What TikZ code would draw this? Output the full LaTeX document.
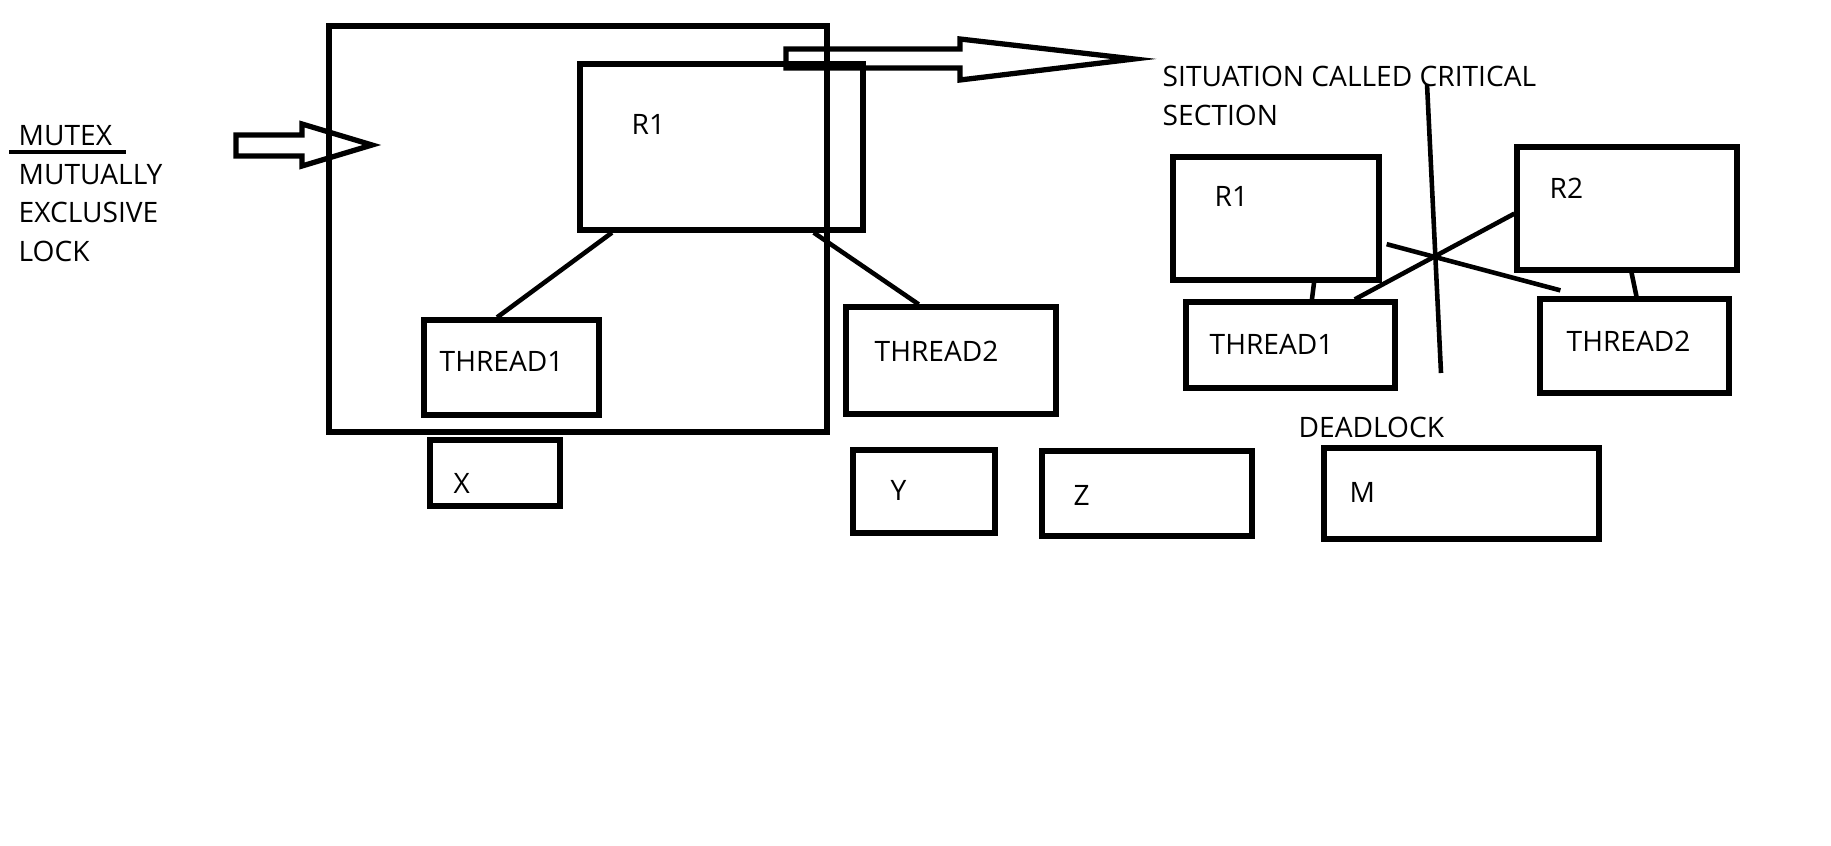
\documentclass[tikz,border=0pt]{standalone}
\usepackage{fontspec}
\setmainfont{Open Sans}
\usetikzlibrary{fit, calc}

\begin{document}
\begin{tikzpicture}[
  x=0.01cm, y=-0.01cm,
  font=\fontsize{8}{10.95}\selectfont,
  box/.style   ={draw, line width=1.5pt, inner sep=0pt},
  txt/.style   ={inner sep=0pt, anchor=base west},
  link/.style  ={line width=1.3pt},
  hollow/.style={draw, line width=1.5pt, line join=miter},
]
\useasboundingbox (0,0) rectangle (1831,846);

% ---------- left: mutex note + hollow arrow ----------
\node[txt] (mutex) at (18,146) {MUTEX};
\node[txt] (mutual) at (18,185) {MUTUALLY};
\node[txt] (excl) at (18,223) {EXCLUSIVE};
\node[txt] (lock) at (18,262) {LOCK};
\draw[link] ($(mutex.base west)+(-9,6)$) -- ++(117,0);
\draw[hollow] (236,135) -- (302,135) -- (302,124) -- (372,145) -- (302,166) -- (302,156) -- (236,156) -- cycle;

% ---------- mutex box: R1 with two threads ----------
\node[box, fit={(329,26) (827,432)}] (lockbox) {};
\node[box, fit={(580,64) (863,230)}]   (r1) {};
\node[txt] (r1t) at (631,135) {R1};
\node[box, fit={(424,320) (599,415)}]  (t1) {};
\node[txt] (t1t) at (439,372) {THREAD1};
\node[box, fit={(846,307) (1056,414)}] (t2) {};
\node[txt] (t2t) at (874,361) {THREAD2};

\draw[link] ($(r1.south west)!0.12!(r1.south east)$) -- ($(t1.north west)!0.42!(t1.north east)$);
\draw[link] ($(r1.south west)!0.82!(r1.south east)$) -- ($(t2.north west)!0.35!(t2.north east)$);

% big hollow arrow to the note
\draw[hollow] (786,49) -- (960,49) -- (960,39) -- (1134,59) -- (960,80) -- (960,68) -- (786,68) -- cycle;
\node[txt] (crit) at (1162,87) {SITUATION CALLED CRITICAL};
\node[txt] (sect) at (1162,126) {SECTION};

% ---------- bottom row ----------
\node[box, fit={(430,440) (560,506)}]   (bx) {};
\node[txt] (bxt) at (453,493) {X};
\node[box, fit={(853,450) (995,533)}]   (by) {};
\node[txt] (byt) at (890,500) {Y};
\node[box, fit={(1042,451) (1252,536)}] (bz) {};
\node[txt] (bzt) at (1073,505) {Z};
\node[box, fit={(1324,448) (1599,539)}] (bm) {};
\node[txt] (bmt) at (1349,502) {M};

% ---------- right: deadlock ----------
\node[box, fit={(1173,157) (1379,280)}] (ra) {};
\node[txt] (rat) at (1214,207) {R1};
\node[box, fit={(1517,147) (1737,270)}] (rb) {};
\node[txt] (rbt) at (1549,199) {R2};
\node[box, fit={(1186,302) (1395,388)}] (ta) {};
\node[txt] (tat) at (1209,355) {THREAD1};
\node[box, fit={(1540,299) (1729,393)}] (tb) {};
\node[txt] (tbt) at (1566,351) {THREAD2};
\node[txt] (dead) at (1298,437) {DEADLOCK};

\draw[link] ($(ra.south west)!0.68!(ra.south east)$) -- ($(ta.north west)!0.60!(ta.north east)$);
\draw[link] ($(rb.south west)!0.52!(rb.south east)$) -- ($(tb.north west)!0.51!(tb.north east)$);
% crossed requests
\draw[link] ($(ra.north east)!0.70!(ra.south east)+(5,0)$) -- ($(tb.north west)+(23,-6)$);
\draw[link] ($(rb.north west)!0.54!(rb.south west)$) -- ($(ta.north west)!0.80!(ta.north east)$);
% stroke through it
\coordinate (s1) at (1427,84);
\coordinate (s2) at (1441,373);
\draw[link] (s1) -- (s2);

\end{tikzpicture}
\end{document}
